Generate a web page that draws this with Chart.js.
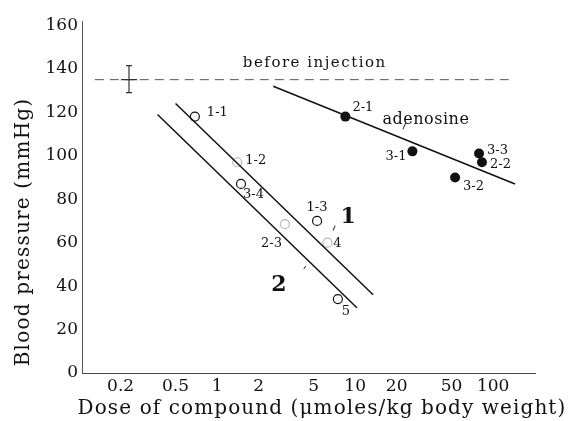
<!DOCTYPE html>
<html>
<head>
<meta charset="utf-8">
<script src="https://cdn.jsdelivr.net/npm/chart.js@4.4.1/dist/chart.umd.min.js"></script>
<style>
    html, body { margin: 0; padding: 0; background: #ffffff; }
    #wrap { width: 570px; height: 421px; }
</style>
</head>
<body>
<div id="wrap"><canvas id="bpChart"></canvas></div>
<script>
// x: dose of compound (umoles/kg), y: blood pressure (mmHg)
const xTicks = [0.2, 0.5, 1, 2, 5, 10, 20, 50, 100];
const yTicks = [0, 20, 40, 60, 80, 100, 120, 140, 160];

const openLabels = ["1-1", "1-2", "1-3", "2-3"];
const openDose = [0.69, 1.4, 5.3, 3.1];
const openBP = [118, 97, 70, 68.5];

const dotLabels = ["3-4", "4", "5"];
const dotDose = [1.49, 6.3, 7.5];
const dotBP = [87, 60, 34];

const adenoLabels = ["2-1", "3-1", "3-2", "3-3", "2-2"];
const adenoDose = [8.5, 26, 53, 79, 83];
const adenoBP = [118, 102, 90, 101, 97];

// regression lines, end points
const line1Dose = [0.5, 13.5];
const line1BP = [124, 36];
const line2Dose = [0.37, 10.3];
const line2BP = [119, 30];
const adenoLineDose = [2.55, 144];
const adenoLineBP = [132, 87];

// level before injection, with its error bar
const controlDose = [0.13, 140];
const controlBP = [135, 135];
const controlErrDose = 0.23;
const controlErrBP = [129, 141.5];

// text inside the plot
const curveNames = ["1", "2"];
const curveNameDose = [8.9, 2.8];
const curveNameBP = [71.5, 40.5];
const noteTexts = ["before injection", "adenosine"];
const noteDose = [5.1, 32.6];
const noteBP = [142.5, 116.3];

const faintPoints = ["1-2", "2-3", "4"];
const labelOffsets = {
    "1-1": [12, -4, "left"],
    "1-2": [8, -2, "left"],
    "1-3": [0, -13, "center"],
    "2-3": [-3, 19, "right"],
    "3-4": [2, 11, "left"],
    "4": [10, 1, "center"],
    "5": [8, 13, "center"],
    "2-1": [7, -9, "left"],
    "3-1": [-6, 5, "right"],
    "3-2": [8, 9, "left"],
    "3-3": [8, -3, "left"],
    "2-2": [8, 2, "left"],
};

const serif = "DejaVu Serif";
const ink = "#111111";

function toPoints(xs, ys) {
    return xs.map((v, i) => ({ x: v, y: ys[i] }));
}

function pointColor(labels) {
    return (c) => (faintPoints.includes(labels[c.dataIndex]) ? "#b8b8b8" : ink);
}

function drawSpaced(ctx, text, x, y, spacing) {
    ctx.save();
    ctx.letterSpacing = spacing + "px";
    ctx.fillText(text, x, y);
    ctx.restore();
}

const figureText = {
    id: "figureText",
    afterDatasetsDraw(chart) {
        const { ctx } = chart;
        const x = chart.scales.x;
        const y = chart.scales.y;

        // error bar of the control level
        const ex = x.getPixelForValue(controlErrDose);
        const eTop = y.getPixelForValue(controlErrBP[1]);
        const eBot = y.getPixelForValue(controlErrBP[0]);
        ctx.save();
        ctx.strokeStyle = "#333";
        ctx.lineWidth = 1.2;
        ctx.beginPath();
        ctx.moveTo(ex, eTop);
        ctx.lineTo(ex, eBot);
        ctx.moveTo(ex - 3, eTop);
        ctx.lineTo(ex + 3, eTop);
        ctx.moveTo(ex - 3, eBot);
        ctx.lineTo(ex + 3, eBot);
        ctx.moveTo(ex - 8, y.getPixelForValue(controlBP[0]));
        ctx.lineTo(ex + 8, y.getPixelForValue(controlBP[0]));
        ctx.stroke();
        ctx.restore();

        // point labels
        ctx.save();
        ctx.fillStyle = ink;
        ctx.font = "13px '" + serif + "'";
        ctx.textBaseline = "middle";
        const groups = [
            [openLabels, openDose, openBP],
            [dotLabels, dotDose, dotBP],
            [adenoLabels, adenoDose, adenoBP],
        ];
        groups.forEach(([labels, xs, ys]) => {
            labels.forEach((lab, i) => {
                const off = labelOffsets[lab];
                ctx.textAlign = off[2];
                ctx.fillText(
                    lab,
                    x.getPixelForValue(xs[i]) + off[0],
                    y.getPixelForValue(ys[i]) + off[1]
                );
            });
        });

        // curve numbers
        ctx.font = "bold 22px '" + serif + "'";
        ctx.textAlign = "center";
        curveNames.forEach((name, i) => {
            ctx.fillText(
                name,
                x.getPixelForValue(curveNameDose[i]),
                y.getPixelForValue(curveNameBP[i])
            );
        });

        // notes
        ctx.font = "15px '" + serif + "'";
        drawSpaced(
            ctx,
            noteTexts[0],
            x.getPixelForValue(noteDose[0]),
            y.getPixelForValue(noteBP[0]),
            1.5
        );
        ctx.font = "16px '" + serif + "'";
        drawSpaced(
            ctx,
            noteTexts[1],
            x.getPixelForValue(noteDose[1]),
            y.getPixelForValue(noteBP[1]),
            0.5
        );

        // small pointer ticks
        ctx.strokeStyle = "#222";
        ctx.lineWidth = 1;
        const ticks = [
            [x.getPixelForValue(noteDose[1]) - 23, y.getPixelForValue(noteBP[1]) + 9, -3, 7],
            [x.getPixelForValue(curveNameDose[0]) - 15, y.getPixelForValue(curveNameBP[0]) + 13, -2, 5],
            [x.getPixelForValue(curveNameDose[1]) + 25, y.getPixelForValue(curveNameBP[1]) - 16, -2, 3],
        ];
        ticks.forEach(([tx, ty, dx, dy]) => {
            ctx.beginPath();
            ctx.moveTo(tx, ty);
            ctx.lineTo(tx - dx, ty - dy);
            ctx.stroke();
        });
        ctx.restore();
    },
    afterDraw(chart) {
        const { ctx, chartArea } = chart;
        ctx.save();
        ctx.fillStyle = ink;
        ctx.font = "20px '" + serif + "'";
        ctx.textAlign = "center";
        ctx.textBaseline = "middle";
        drawSpaced(ctx, "Dose of compound (\u03bcmoles/kg body weight)", 322, chartArea.bottom + 36, 1.1);
        ctx.translate(24, 232);
        ctx.rotate(-Math.PI / 2);
        drawSpaced(ctx, "Blood pressure (mmHg)", 0, 0, 1.2);
        ctx.restore();
    },
};

const ctx = document.getElementById("bpChart").getContext("2d");
new Chart(ctx, {
    type: "scatter",
    data: {
        datasets: [
            {
                label: "before injection",
                type: "line",
                data: toPoints(controlDose, controlBP),
                borderColor: "#555",
                borderWidth: 1,
                borderDash: [9, 6],
                pointRadius: 0,
            },
            {
                label: "line 1",
                type: "line",
                data: toPoints(line1Dose, line1BP),
                borderColor: ink,
                borderWidth: 1.5,
                pointRadius: 0,
            },
            {
                label: "line 2",
                type: "line",
                data: toPoints(line2Dose, line2BP),
                borderColor: ink,
                borderWidth: 1.5,
                pointRadius: 0,
            },
            {
                label: "adenosine line",
                type: "line",
                data: toPoints(adenoLineDose, adenoLineBP),
                borderColor: ink,
                borderWidth: 1.5,
                pointRadius: 0,
            },
            {
                label: "open",
                data: toPoints(openDose, openBP),
                pointRadius: 4.5,
                pointBorderWidth: 1.2,
                pointBackgroundColor: "#ffffff",
                pointBorderColor: pointColor(openLabels),
            },
            {
                label: "dotted",
                data: toPoints(dotDose, dotBP),
                pointRadius: 4.5,
                pointBorderWidth: 1.2,
                pointBackgroundColor: "#ffffff",
                pointBorderColor: pointColor(dotLabels),
            },
            {
                label: "dotted centre",
                data: toPoints(dotDose, dotBP),
                pointRadius: 1.5,
                pointBorderWidth: 0,
                pointBackgroundColor: pointColor(dotLabels),
            },
            {
                label: "adenosine",
                data: toPoints(adenoDose, adenoBP),
                pointRadius: 5,
                pointBorderWidth: 0,
                pointBackgroundColor: ink,
            },
        ],
    },
    options: {
        responsive: true,
        maintainAspectRatio: false,
        animation: false,
        layout: {
            padding: { top: 21, right: 35, left: 0, bottom: 0 },
        },
        plugins: {
            legend: { display: false },
            tooltip: { enabled: false },
        },
        scales: {
            x: {
                type: "logarithmic",
                min: 0.105,
                max: 201,
                afterBuildTicks: function (scale) {
                    scale.ticks = xTicks.map((v) => ({ value: v }));
                },
                afterFit: function (scale) {
                    scale.height = 48;
                },
                grid: { display: false, drawTicks: false },
                border: { display: true, color: "#444", width: 1 },
                ticks: {
                    autoSkip: false,
                    maxRotation: 0,
                    padding: 3,
                    color: ink,
                    font: { family: serif, size: 17 },
                    callback: function (value) {
                        return String(value);
                    },
                },
            },
            y: {
                type: "linear",
                min: 0,
                max: 162,
                afterBuildTicks: function (scale) {
                    scale.ticks = yTicks.map((v) => ({ value: v }));
                },
                afterFit: function (scale) {
                    scale.width = 82;
                },
                grid: { display: false, drawTicks: false },
                border: { display: true, color: "#555", width: 1, dash: [6, 2] },
                ticks: {
                    padding: 4,
                    color: ink,
                    font: { family: serif, size: 17 },
                },
            },
        },
    },
    plugins: [figureText],
});
</script>
</body>
</html>
